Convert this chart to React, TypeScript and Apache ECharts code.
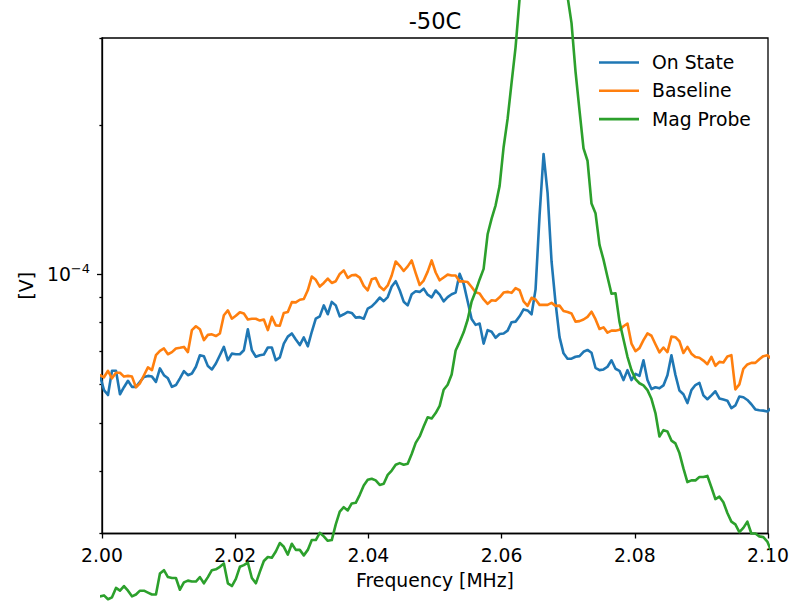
import React, { useEffect, useRef } from 'react';
import * as echarts from 'echarts';

// Sweep frequencies (MHz): first bin and bin spacing
const FREQ_START_MHZ = 1.9997;
const FREQ_STEP_MHZ = 0.0006;

// Measured amplitudes in microvolts, one value per frequency bin
const onStateUV = [
  62.4, 58.4, 57.1, 63.9, 63.9, 57.3, 59.2, 61.0, 59.3, 59.3,
  60.7, 62.1, 62.4, 62.2, 60.7, 64.6, 62.6, 61.7, 59.3, 59.8,
  61.7, 63.8, 62.6, 63.1, 65.1, 68.7, 68.4, 65.3, 64.3, 66.1,
  68.7, 71.4, 67.1, 69.2, 69.0, 69.0, 70.3, 77.5, 70.3, 68.2,
  68.7, 68.9, 71.2, 71.2, 67.1, 68.0, 72.5, 74.9, 76.0, 73.9,
  72.0, 74.6, 71.6, 76.6, 81.4, 82.3, 86.6, 83.1, 88.0, 86.6,
  82.3, 83.1, 84.0, 83.6, 81.8, 82.0, 81.4, 85.3, 86.2, 87.8,
  89.8, 88.3, 90.0, 94.5, 96.9, 92.9, 88.1, 86.6, 91.2, 92.5,
  92.2, 93.6, 91.0, 89.9, 92.8, 91.0, 88.2, 90.0, 91.2, 91.9,
  100.3, 95.8, 88.3, 81.3, 79.1, 79.6, 72.5, 77.2, 76.6, 74.5,
  75.8, 76.0, 77.0, 80.1, 80.3, 82.3, 85.0, 84.6, 83.1, 93.3,
  131.5, 175.0, 146.3, 106.2, 87.6, 74.7, 69.3, 67.6, 67.6, 68.2,
  68.4, 69.8, 70.4, 69.5, 64.8, 64.1, 64.3, 65.1, 67.1, 64.5,
  63.9, 61.2, 64.1, 61.2, 63.0, 62.4, 67.1, 61.2, 58.7, 59.2,
  58.9, 59.7, 62.6, 68.7, 62.7, 58.3, 57.3, 55.0, 58.4, 59.8,
  60.4, 57.0, 56.0, 57.0, 58.1, 56.2, 55.9, 55.6, 53.7, 54.4,
  56.7, 56.5, 55.8, 54.7, 53.4, 53.2, 53.1, 52.9, 53.7,
];

const baselineUV = [
  62.6, 62.0, 63.9, 61.7, 63.3, 63.3, 62.2, 62.4, 62.2, 59.2,
  60.3, 62.6, 64.9, 64.1, 68.7, 70.1, 70.9, 69.0, 69.7, 70.9,
  71.1, 71.4, 69.7, 77.2, 78.6, 77.5, 73.7, 75.5, 75.7, 75.1,
  76.0, 82.7, 84.6, 81.4, 82.5, 83.9, 83.4, 81.1, 81.4, 81.4,
  80.7, 81.1, 77.2, 82.1, 78.9, 78.8, 83.6, 84.0, 87.9, 87.8,
  88.9, 89.2, 92.9, 99.0, 97.5, 94.5, 96.1, 98.1, 96.1, 96.9,
  100.2, 101.9, 98.4, 99.6, 99.8, 98.5, 94.8, 92.9, 97.8, 98.3,
  94.5, 93.0, 95.0, 99.5, 106.2, 104.1, 101.6, 103.8, 106.7, 100.6,
  95.2, 97.2, 101.3, 106.7, 100.9, 97.3, 98.6, 99.9, 99.5, 99.5,
  96.8, 96.8, 96.5, 94.3, 92.0, 91.5, 89.0, 87.2, 88.7, 88.5,
  89.9, 91.9, 92.2, 91.8, 93.8, 92.9, 88.2, 86.4, 89.7, 89.0,
  86.8, 86.8, 86.8, 87.6, 86.4, 86.5, 84.4, 84.0, 83.4, 80.3,
  80.5, 81.1, 82.1, 84.1, 81.2, 77.6, 78.2, 76.3, 77.0, 77.0,
  77.3, 78.6, 79.6, 72.5, 70.0, 71.0, 73.7, 76.0, 75.2, 72.3,
  69.6, 71.2, 69.7, 74.9, 74.7, 73.3, 69.4, 71.4, 69.2, 68.1,
  67.9, 67.0, 65.9, 68.2, 65.4, 66.6, 66.4, 68.3, 68.7, 58.6,
  60.0, 64.5, 65.8, 66.3, 66.3, 67.4, 68.4, 68.7, 67.6,
];

const magProbeUV = [
  22.4, 22.5, 22.1, 22.3, 23.3, 23.0, 23.5, 23.0, 22.4, 22.6,
  23.0, 23.0, 22.8, 22.6, 22.6, 24.9, 25.3, 24.5, 24.4, 24.4,
  23.1, 23.9, 24.1, 24.0, 24.0, 24.5, 23.8, 24.5, 25.3, 25.4,
  25.7, 26.1, 23.8, 23.5, 24.3, 25.7, 25.9, 26.2, 24.4, 23.8,
  25.1, 26.4, 26.9, 26.8, 27.6, 28.7, 28.2, 27.2, 28.6, 27.8,
  27.8, 27.1, 27.8, 29.1, 29.1, 30.1, 29.6, 29.0, 29.1, 31.3,
  33.2, 33.9, 33.4, 34.5, 34.6, 35.9, 37.5, 38.5, 38.7, 38.4,
  37.6, 37.8, 39.4, 40.2, 41.3, 41.6, 41.3, 41.5, 43.4, 45.7,
  47.1, 49.3, 51.5, 51.2, 52.5, 54.3, 58.5, 59.9, 62.8, 70.2,
  73.1, 76.4, 81.0, 88.2, 92.5, 97.7, 102.6, 120.5, 129.6, 137.9,
  150.9, 180.6, 206.0, 243.8, 287.6, 360, 450, 560, 680, 800,
  880, 900, 850, 740, 620, 510, 430, 364, 321.5, 256.6,
  214.1, 179.6, 169.6, 139.0, 132.9, 114.7, 107.1, 98.8, 91.4, 91.6,
  80.3, 74.0, 68.2, 64.1, 61.5, 60.3, 59.7, 58.4, 56.1, 52.5,
  47.1, 48.5, 48.2, 46.2, 45.6, 43.6, 40.6, 38.1, 38.4, 38.4,
  39.0, 39.0, 39.2, 37.2, 35.2, 35.6, 34.7, 33.0, 31.7, 31.3,
  30.2, 30.8, 31.7, 30.0, 30.0, 29.6, 29.5, 28.9, 27.6,
];

const SERIES_NAMES = ['On State', 'Baseline', 'Mag Probe'];
const SERIES_COLORS = ['#1f77b4', '#ff7f0e', '#2ca02c'];
const SERIES_DATA = [onStateUV, baselineUV, magProbeUV];

const X_TICKS = [2.0, 2.02, 2.04, 2.06, 2.08, 2.1];
const Y_MAJOR_TICKS = [1e-4];
const Y_MINOR_TICKS = [3e-5, 4e-5, 5e-5, 6e-5, 7e-5, 8e-5, 9e-5, 2e-4, 3e-4];

const FONT = 'DejaVu Sans';
const LABEL_SIZE = 18.8;
const LINE_WIDTH = 2.6;
const SPINE = { color: '#000', width: 1.3 };

const freqsMHz = onStateUV.map((_, i) => +(FREQ_START_MHZ + i * FREQ_STEP_MHZ).toFixed(4));
const toVolts = (uv: number[]) => uv.map((v, i) => [freqsMHz[i], v * 1e-6]);

// "10^-4" style label for decade ticks
const decadeLabel = (v: number) => {
  const exp = Math.round(Math.log10(v));
  const sign = exp < 0 ? '\u2212' : '';
  return `{b|10}{s|${sign}${Math.abs(exp)}}`;
};

const logAxisBase = {
  type: 'log' as const,
  logBase: 10,
  min: 3e-5,
  max: 3e-4,
  position: 'left' as const,
  splitLine: { show: false },
  minorTick: { show: false },
  minorSplitLine: { show: false },
};

const option = {
  animation: false,
  textStyle: { fontFamily: FONT, color: '#000' },
  title: {
    text: '-50C',
    left: 435,
    top: 9,
    textAlign: 'center',
    padding: 0,
    textStyle: { fontFamily: FONT, fontSize: 22.6, fontWeight: 'normal', color: '#000' },
  },
  legend: {
    orient: 'vertical',
    left: 599,
    top: 53,
    padding: 0,
    itemWidth: 40,
    itemHeight: LINE_WIDTH,
    itemGap: 9.3,
    icon: 'rect',
    data: SERIES_NAMES,
    textStyle: {
      fontFamily: FONT,
      fontSize: LABEL_SIZE,
      color: '#000',
      lineHeight: 18,
      padding: [0, 0, 0, 8],
    },
  },
  grid: {
    left: 102,
    right: 38,
    top: 38,
    bottom: 67.5,
    show: true,
    borderColor: '#000',
    borderWidth: 1.3,
    backgroundColor: 'transparent',
    containLabel: false,
    outerBoundsMode: 'none',
  },
  xAxis: {
    type: 'value',
    min: 2.0,
    max: 2.1,
    interval: 0.02,
    name: 'Frequency [MHz]',
    nameLocation: 'middle',
    nameGap: 37.5,
    nameTextStyle: { fontFamily: FONT, fontSize: LABEL_SIZE, color: '#000' },
    axisLine: { show: true, onZero: false, lineStyle: SPINE },
    axisTick: { show: true, inside: false, length: 5, customValues: X_TICKS, lineStyle: SPINE },
    axisLabel: {
      customValues: X_TICKS,
      formatter: (v: number) => v.toFixed(2),
      margin: 12.5,
      fontFamily: FONT,
      fontSize: LABEL_SIZE,
      color: '#000',
      showMinLabel: true,
      showMaxLabel: true,
    },
    splitLine: { show: false },
  },
  yAxis: [
    {
      ...logAxisBase,
      name: '[V]',
      nameLocation: 'middle',
      nameRotate: 90,
      nameGap: 64.5,
      nameTextStyle: { fontFamily: FONT, fontSize: LABEL_SIZE, color: '#000' },
      axisLine: { show: true, onZero: false, lineStyle: SPINE },
      axisTick: { show: true, inside: false, length: 5, customValues: Y_MAJOR_TICKS, lineStyle: SPINE },
      axisLabel: {
        customValues: Y_MAJOR_TICKS,
        margin: 12,
        formatter: decadeLabel,
        rich: {
          b: { fontFamily: FONT, fontSize: LABEL_SIZE, color: '#000', lineHeight: 24 },
          s: { fontFamily: FONT, fontSize: 13, color: '#000', lineHeight: 13, verticalAlign: 'top' },
        },
      },
    },
    {
      ...logAxisBase,
      axisLine: { show: false },
      axisTick: { show: true, inside: false, length: 2.6, customValues: Y_MINOR_TICKS, lineStyle: SPINE },
      axisLabel: { show: false },
    },
  ],
  series: SERIES_NAMES.map((name, k) => ({
    name,
    type: 'line',
    xAxisIndex: 0,
    yAxisIndex: 0,
    data: toVolts(SERIES_DATA[k]),
    showSymbol: false,
    symbol: 'none',
    clip: false,
    color: SERIES_COLORS[k],
    itemStyle: { color: SERIES_COLORS[k] },
    lineStyle: { color: SERIES_COLORS[k], width: LINE_WIDTH, join: 'round', cap: 'square' },
    emphasis: { disabled: true },
  })),
};

export default function App() {
  const ref = useRef<HTMLDivElement>(null);

  useEffect(() => {
    const el = ref.current;
    if (!el) return;
    const chart = echarts.init(el, null, { renderer: 'svg' });
    chart.setOption(option as any);
    return () => chart.dispose();
  }, []);

  return (
    <div
      ref={ref}
      style={{ position: 'absolute', left: 0, top: 0, width: 806, height: 601, background: '#fff' }}
    />
  );
}
